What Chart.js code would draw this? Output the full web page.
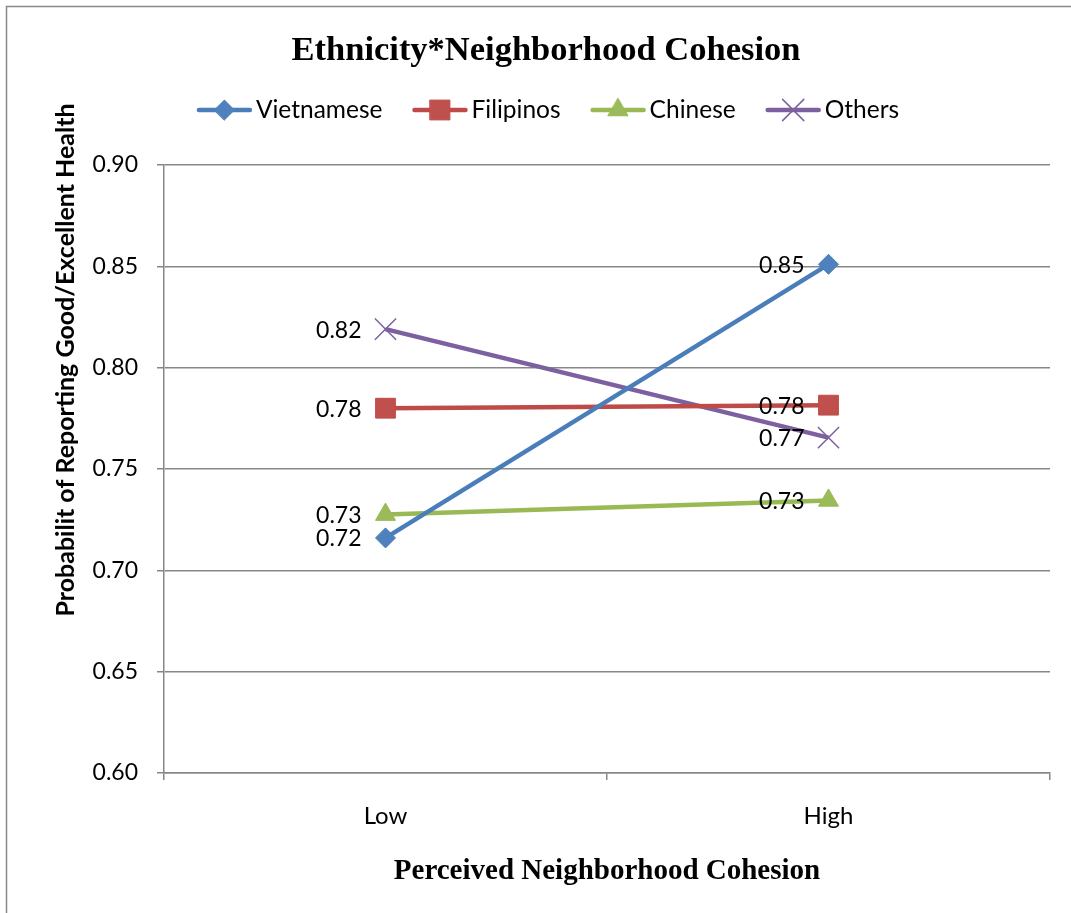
<!DOCTYPE html>
<html>
<head>
<meta charset="utf-8">
<script src="https://cdn.jsdelivr.net/npm/chart.js@4/dist/chart.umd.min.js"></script>
<style>
  html, body { margin: 0; padding: 0; background: #ffffff; }
  canvas { display: block; }
</style>
</head>
<body>
<canvas id="chart" width="1071" height="913"></canvas>
<script>
// Predicted probability of good/excellent self-rated health
const categories = ['Low', 'High'];
const vietnamese = [0.716, 0.851];
const filipinos  = [0.780, 0.7815];
const chinese    = [0.7275, 0.7345];
const others     = [0.819, 0.7655];
const yTicks = [0.60, 0.65, 0.70, 0.75, 0.80, 0.85, 0.90];

const seriesNames  = ['Vietnamese', 'Filipinos', 'Chinese', 'Others'];
const seriesValues = [vietnamese, filipinos, chinese, others];

// Series styling
const lineColors   = ['#4A7EBB', '#BE4B48', '#98B954', '#7D60A0'];
const markerFills  = ['#4F81BD', '#C0504D', '#9BBB59', 'rgba(0,0,0,0)'];
const markerStyles = ['rectRot', 'rect', 'triangle', 'crossRot'];
const markerRadii  = [10, 14, 11.5, 15];

const GRID = '#878787';
Chart.defaults.font.family = 'Lato';
Chart.defaults.color = '#000000';

function drawMarker(ctx, style, x, y, r, fill, stroke, bw) {
  ctx.save();
  ctx.beginPath();
  if (style === 'rectRot') {
    ctx.moveTo(x - r, y); ctx.lineTo(x, y - r); ctx.lineTo(x + r, y); ctx.lineTo(x, y + r); ctx.closePath();
  } else if (style === 'rect') {
    const s = r * Math.SQRT1_2;
    ctx.rect(x - s, y - s, 2 * s, 2 * s);
  } else if (style === 'triangle') {
    const a = 2 * Math.PI / 3;
    ctx.moveTo(x, y - r);
    ctx.lineTo(x + Math.sin(a) * r, y - Math.cos(a) * r);
    ctx.lineTo(x + Math.sin(2 * a) * r, y - Math.cos(2 * a) * r);
    ctx.closePath();
  } else if (style === 'crossRot') {
    const s = r * Math.SQRT1_2;
    ctx.moveTo(x - s, y - s); ctx.lineTo(x + s, y + s);
    ctx.moveTo(x + s, y - s); ctx.lineTo(x - s, y + s);
  }
  if (style !== 'crossRot') { ctx.fillStyle = fill; ctx.fill(); }
  ctx.strokeStyle = stroke; ctx.lineWidth = bw; ctx.stroke();
  ctx.restore();
}

// Outer frame and white background
const frame = {
  id: 'frame',
  beforeDraw(chart) {
    const ctx = chart.ctx;
    ctx.save();
    ctx.fillStyle = '#ffffff';
    ctx.fillRect(0, 0, chart.width, chart.height);
    ctx.strokeStyle = GRID;
    ctx.lineWidth = 1.5;
    ctx.beginPath();
    ctx.moveTo(6.5, chart.height);
    ctx.lineTo(6.5, 6.5);
    ctx.lineTo(chart.width, 6.5);
    ctx.stroke();
    ctx.restore();
  }
};

// Line-and-marker legend across the top
const lineLegend = {
  id: 'lineLegend',
  afterDraw(chart) {
    const ctx = chart.ctx;
    const lineLen = 55, textGap = 4, itemGap = 30, cy = 110, cx = 548;
    ctx.save();
    ctx.font = '24.5px Lato';
    const widths = seriesNames.map(n => ctx.measureText(n).width);
    const total = widths.reduce((a, w) => a + lineLen + textGap + w, 0) + itemGap * (seriesNames.length - 1);
    let x = cx - total / 2;
    seriesNames.forEach((name, i) => {
      ctx.strokeStyle = lineColors[i];
      ctx.lineWidth = 4.5;
      ctx.lineCap = 'round';
      ctx.beginPath();
      ctx.moveTo(x + 2, cy);
      ctx.lineTo(x + lineLen - 2, cy);
      ctx.stroke();
      drawMarker(ctx, markerStyles[i], x + lineLen / 2, cy, markerRadii[i], markerFills[i], lineColors[i], markerStyles[i] === 'crossRot' ? 1.5 : 1);
      ctx.fillStyle = '#000000';
      ctx.textAlign = 'left';
      ctx.textBaseline = 'middle';
      ctx.fillText(name, x + lineLen + textGap, cy);
      x += lineLen + textGap + widths[i] + itemGap;
    });
    ctx.restore();
  }
};

// Rotated y-axis title
const yTitle = {
  id: 'yTitle',
  afterDraw(chart) {
    const ctx = chart.ctx;
    ctx.save();
    ctx.translate(66, 360);
    ctx.rotate(-Math.PI / 2);
    ctx.font = 'bold 25px Lato';
    ctx.fillStyle = '#000000';
    ctx.textAlign = 'center';
    ctx.textBaseline = 'middle';
    ctx.fillText('Probabilit of Reporting Good/Excellent Health', 0, 0);
    ctx.restore();
  }
};

// Value labels to the left of each point
const valueLabels = {
  id: 'valueLabels',
  afterDatasetsDraw(chart) {
    const ctx = chart.ctx;
    ctx.save();
    ctx.font = '23px Lato';
    ctx.fillStyle = '#000000';
    ctx.textAlign = 'right';
    ctx.textBaseline = 'middle';
    chart.data.datasets.forEach((ds, i) => {
      chart.getDatasetMeta(i).data.forEach((pt, j) => {
        ctx.fillText(ds.data[j].toFixed(2), pt.x - 24, pt.y + 1);
      });
    });
    ctx.restore();
  }
};

new Chart(document.getElementById('chart'), {
  type: 'line',
  data: {
    labels: categories,
    datasets: seriesNames.map((name, i) => ({
      label: name,
      data: seriesValues[i],
      borderColor: lineColors[i],
      borderWidth: 4.5,
      tension: 0,
      pointStyle: markerStyles[i],
      pointRadius: markerRadii[i],
      pointHoverRadius: markerRadii[i],
      pointBackgroundColor: markerFills[i],
      pointBorderColor: lineColors[i],
      pointBorderWidth: markerStyles[i] === 'crossRot' ? 1.5 : 1,
      clip: false
    }))
  },
  options: {
    responsive: false,
    animation: false,
    devicePixelRatio: 1,
    events: [],
    layout: { padding: { left: 42, right: 21, top: 0, bottom: 0 } },
    plugins: {
      legend: { display: false },
      tooltip: { enabled: false },
      title: {
        display: true,
        text: 'Ethnicity*Neighborhood Cohesion',
        color: '#000000',
        font: { family: 'Liberation Serif', size: 34.5, weight: 'bold' },
        padding: { top: 30, bottom: 93.6 }
      }
    },
    scales: {
      x: {
        type: 'category',
        offset: true,
        afterFit: s => { s.height = 140; },
        grid: { drawOnChartArea: false, drawTicks: true, tickLength: 7, offset: true, color: GRID, lineWidth: 1.5 },
        border: { display: true, color: GRID, width: 1.5 },
        ticks: { font: { size: 24 }, padding: 22, color: '#000000' },
        title: {
          display: true,
          text: 'Perceived Neighborhood Cohesion',
          color: '#000000',
          font: { family: 'Liberation Serif', size: 29, weight: 'bold' },
          padding: { top: 0, bottom: 24 }
        }
      },
      y: {
        min: yTicks[0],
        max: yTicks[yTicks.length - 1],
        afterFit: s => { s.width = 122; },
        afterBuildTicks: s => { s.ticks = yTicks.map(v => ({ value: v })); },
        grid: { color: GRID, lineWidth: 1.5, tickLength: 7 },
        border: { display: true, color: GRID, width: 1.5 },
        ticks: { font: { size: 23 }, padding: 19, color: '#000000', callback: v => Number(v).toFixed(2) }
      }
    }
  },
  plugins: [frame, lineLegend, yTitle, valueLabels]
});
</script>
</body>
</html>
